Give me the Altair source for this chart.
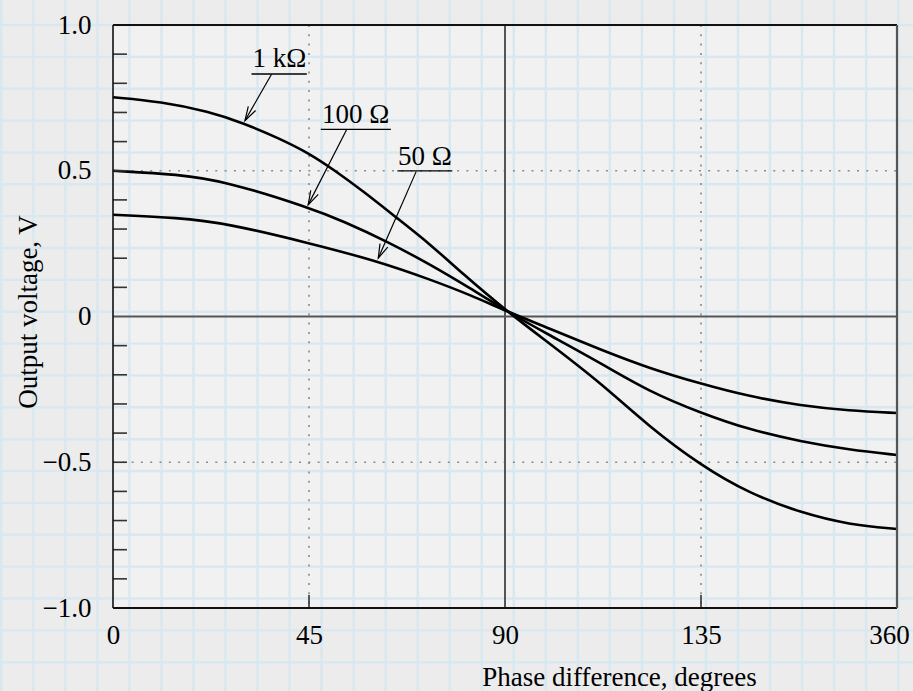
import math
import altair as alt
import pandas as pd

# ---------------- data ----------------
series_names = ["1 kΩ", "100 Ω", "50 Ω"]

deg_1k = [0, 11, 22, 30, 38, 45, 51, 57.5, 65, 73, 80, 90.5, 100, 112, 123, 135, 146, 158, 169, 180]
volt_1k = [0.752, 0.737, 0.703, 0.663, 0.612, 0.560, 0.500, 0.429, 0.340, 0.246, 0.150, 0.017,
           -0.090, -0.228, -0.377, -0.511, -0.606, -0.674, -0.714, -0.729]

deg_100 = [0, 15, 26, 45, 53, 63, 73, 82, 90.5, 100, 112, 123, 135, 146, 158, 169, 180]
volt_100 = [0.500, 0.488, 0.463, 0.374, 0.326, 0.257, 0.177, 0.097, 0.017,
            -0.062, -0.160, -0.257, -0.331, -0.388, -0.429, -0.457, -0.475]

deg_50 = [0, 15, 26, 45, 60.5, 73, 82, 90.5, 100, 112, 123, 135, 146, 158, 169, 180]
volt_50 = [0.349, 0.339, 0.320, 0.252, 0.191, 0.126, 0.074, 0.017,
           -0.040, -0.114, -0.177, -0.231, -0.274, -0.306, -0.323, -0.331]

x_tick_vals = [0, 45, 90, 135, 180]
x_tick_text = ["0", "45", "90", "135", "360"]
y_tick_vals = [-1.0, -0.5, 0.0, 0.5, 1.0]
y_tick_text = ["−1.0", "−0.5", "0", "0.5", "1.0"]
y_minor_ticks = [-0.9, -0.8, -0.7, -0.6, -0.5, -0.4, -0.3, -0.2, -0.1,
                 0.1, 0.2, 0.3, 0.4, 0.5, 0.6, 0.7, 0.8, 0.9]
x_minor_ticks = [45, 135]

dotted_x = [45, 135]
dotted_y = [0.5, -0.5]
solid_x = [90]
solid_y = [0]

ann_text = ["1 kΩ", "100 Ω", "50 Ω"]
ann_text_x = [38.2, 55.7, 71.6]
ann_text_y = [0.856, 0.663, 0.520]
ann_line_x1 = [31.8, 47.7, 65.3]
ann_line_x2 = [44.5, 63.8, 77.9]
ann_line_y = [0.832, 0.642, 0.4995]
arrow_from_x = [36.4, 53.6, 69.6]
arrow_from_y = [0.831, 0.640, 0.497]
arrow_to_x = [30.3, 44.8, 60.9]
arrow_to_y = [0.672, 0.383, 0.200]

# ---------------- layout / style ----------------
W, H = 784, 583
X_DOMAIN = [0, 180]
Y_DOMAIN = [-1, 1]
FONT = "Liberation Serif"
FS = 27

xs = alt.Scale(domain=X_DOMAIN, nice=False, zero=False)
ys = alt.Scale(domain=Y_DOMAIN, nice=False, zero=False)


def label_expr(vals, texts):
    chain = "datum.label"
    for v, t in reversed(list(zip(vals, texts))):
        chain = f"abs(datum.value - ({v})) < 1e-6 ? '{t}' : ({chain})"
    return chain


curves = pd.DataFrame(
    [{"series": series_names[0], "deg": d, "v": v} for d, v in zip(deg_1k, volt_1k)]
    + [{"series": series_names[1], "deg": d, "v": v} for d, v in zip(deg_100, volt_100)]
    + [{"series": series_names[2], "deg": d, "v": v} for d, v in zip(deg_50, volt_50)]
)

px_per_deg = W / (X_DOMAIN[1] - X_DOMAIN[0])
px_per_v = H / (Y_DOMAIN[1] - Y_DOMAIN[0])
angles = []
for fx, fy, tx, ty in zip(arrow_from_x, arrow_from_y, arrow_to_x, arrow_to_y):
    dx = (tx - fx) * px_per_deg
    dy = -(ty - fy) * px_per_v
    angles.append(math.degrees(math.atan2(-dx, dy)) % 360)

ann = pd.DataFrame({
    "label": ann_text, "tx": ann_text_x, "ty": ann_text_y,
    "lx1": ann_line_x1, "lx2": ann_line_x2, "ly": ann_line_y,
    "fx": arrow_from_x, "fy": arrow_from_y, "ax": arrow_to_x, "ay": arrow_to_y,
    "ang": angles,
})

x_axis = alt.Axis(
    values=x_tick_vals, labelExpr=label_expr(x_tick_vals, x_tick_text),
    ticks=False, tickSize=0, domain=False, grid=False, zindex=2,
    labelFont=FONT, labelFontSize=FS, labelColor="black", labelPadding=14,
    labelFlush=False, labelOverlap=False,
    labelOffset={"condition": {"test": "datum.value == 180", "value": -8}, "value": 0},
    title="Phase difference, degrees", titleFont=FONT, titleFontSize=FS,
    titleFontWeight="normal", titleColor="black",
    titleX=506, titleY=77, titleAlign="center", titleBaseline="alphabetic",
)
y_axis = alt.Axis(
    values=y_tick_vals, labelExpr=label_expr(y_tick_vals, y_tick_text),
    ticks=False, tickSize=0, domain=False, grid=False, zindex=2,
    labelFont=FONT, labelFontSize=FS, labelColor="black", labelPadding=22,
    labelFlush=False, labelOverlap=False, labelBaseline="middle",
    title="Output voltage, V", titleFont=FONT, titleFontSize=FS,
    titleFontWeight="normal", titleColor="black",
    titleX=-77, titleY=286.5, titleAngle=270, titleAlign="center",
    titleBaseline="alphabetic",
)


def X(field):
    return alt.X(field, scale=xs, axis=x_axis)


def Y(field):
    return alt.Y(field, scale=ys, axis=y_axis)


# graph-paper background (decoration)
PAPER = "#d8e8ef"
paper_v = alt.Chart(alt.sequence(0, 30, as_="k")).transform_calculate(
    px="1.3 + 32.03 * datum.k - 113"
).mark_rule(color=PAPER, strokeWidth=2.4).encode(
    x=alt.X("px:Q", scale=None, axis=None),
    y=alt.value(-25), y2=alt.value(H + 83),
)
paper_h = alt.Chart(alt.sequence(-1, 22, as_="k")).transform_calculate(
    py="31.86 * datum.k"
).mark_rule(color=PAPER, strokeWidth=2.4).encode(
    y=alt.Y("py:Q", scale=None, axis=None),
    x=alt.value(-113), x2=alt.value(W + 16),
)

dot_v = alt.Chart(pd.DataFrame({"deg": dotted_x})).mark_rule(
    color="#8a8a8a", strokeWidth=1.6, strokeDash=[2, 7.3]
).encode(x=X("deg:Q"), y=alt.value(0), y2=alt.value(H))
dot_h = alt.Chart(pd.DataFrame({"v": dotted_y})).mark_rule(
    color="#8a8a8a", strokeWidth=1.6, strokeDash=[2, 7.3]
).encode(y=Y("v:Q"), x=alt.value(0), x2=alt.value(W))

sol_v = alt.Chart(pd.DataFrame({"deg": solid_x})).mark_rule(
    color="#555555", strokeWidth=2
).encode(x=X("deg:Q"), y=alt.value(0), y2=alt.value(H))
sol_h = alt.Chart(pd.DataFrame({"v": solid_y})).mark_rule(
    color="#555555", strokeWidth=2
).encode(y=Y("v:Q"), x=alt.value(0), x2=alt.value(W))

lines = alt.Chart(curves).mark_line(
    color="black", strokeWidth=2.6, interpolate="basis"
).encode(x=X("deg:Q"), y=Y("v:Q"), detail="series:N")

yt = alt.Chart(pd.DataFrame({"v": y_minor_ticks})).mark_rule(
    color="#333333", strokeWidth=1.6
).encode(y=Y("v:Q"), x=alt.value(0), x2=alt.value(14))
xt = alt.Chart(pd.DataFrame({"deg": x_minor_ticks})).mark_rule(
    color="#333333", strokeWidth=1.6
).encode(x=X("deg:Q"), y=alt.value(H), y2=alt.value(H - 13))

base_ann = alt.Chart(ann)
underline = base_ann.mark_rule(color="black", strokeWidth=1.4).encode(
    x=X("lx1:Q"), x2="lx2:Q", y=Y("ly:Q"),
)
arrow_line = base_ann.mark_rule(color="black", strokeWidth=1.2).encode(
    x=X("fx:Q"), x2="ax:Q", y=Y("fy:Q"), y2="ay:Q",
)
arrow_head = base_ann.mark_point(
    shape="M-0.3,-1L0,0L0.3,-1", filled=False, stroke="black",
    strokeWidth=1.2, size=784, opacity=1,
).encode(x=X("ax:Q"), y=Y("ay:Q"), angle=alt.Angle("ang:Q", scale=None))
ann_label = base_ann.mark_text(
    font=FONT, fontSize=FS, color="black", align="center", baseline="alphabetic"
).encode(x=X("tx:Q"), y=Y("ty:Q"), text="label:N")

frame_src = alt.Data(values=[{}])
frame_top = alt.Chart(frame_src).mark_rule(color="#111111", strokeWidth=1.8).encode(
    x=alt.value(0), x2=alt.value(W), y=alt.value(0))
frame_bottom = alt.Chart(frame_src).mark_rule(color="#111111", strokeWidth=1.8).encode(
    x=alt.value(0), x2=alt.value(W), y=alt.value(H))
frame_left = alt.Chart(frame_src).mark_rule(color="#111111", strokeWidth=1.6).encode(
    x=alt.value(0), y=alt.value(0), y2=alt.value(H))
frame_right = alt.Chart(frame_src).mark_rule(color="#555555", strokeWidth=2.2).encode(
    x=alt.value(W), y=alt.value(0), y2=alt.value(H))

chart = alt.layer(
    paper_v, paper_h, dot_v, dot_h, sol_v, sol_h, lines, yt, xt,
    underline, arrow_line, arrow_head, ann_label,
    frame_top, frame_bottom, frame_left, frame_right,
).properties(
    width=W, height=H,
    padding={"left": 113, "top": 25, "right": 16, "bottom": 83},
    autosize=alt.AutoSizeParams(type="none"),
    background="#ececec",
).configure_view(
    stroke="transparent", fill="#f1f1f1",
)

chart.save("out.html", embed_options={"renderer": "svg", "actions": False})
